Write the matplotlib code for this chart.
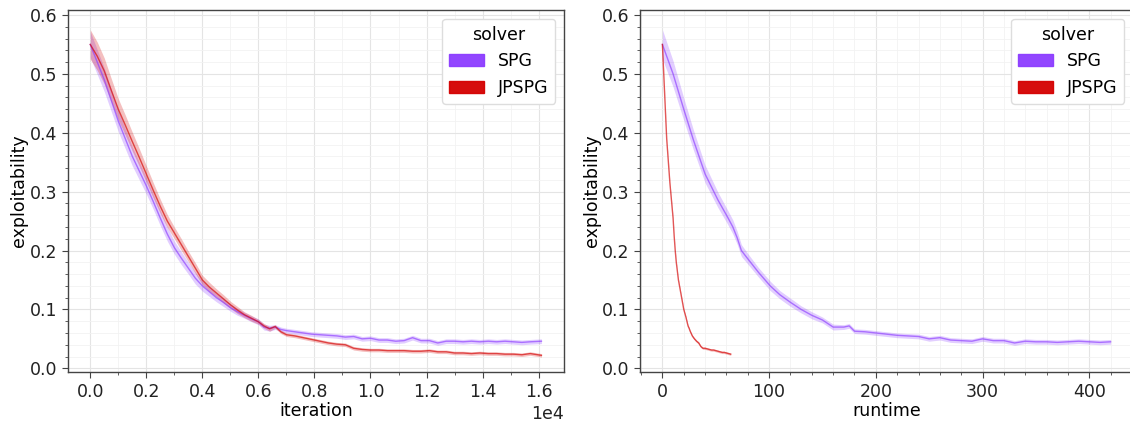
import numpy as np
import matplotlib
matplotlib.use("Agg")
import matplotlib.pyplot as plt
from matplotlib.patches import Patch
from matplotlib.ticker import MultipleLocator

# ---- exploitability vs. iteration -------------------------------------------
spg_iter = [0, 250, 500, 750, 1000, 1250, 1500, 1750, 2000, 2250, 2500, 2750,
            3000, 3250, 3500, 3750, 4000, 4250, 4500, 4750, 5000, 5250, 5500,
            5750, 6000, 6200, 6400, 6600, 6800, 7000, 7300, 7600, 7900, 8200,
            8500, 8800, 9100, 9400, 9700, 10000, 10300, 10600, 10900, 11200,
            11500, 11800, 12100, 12400, 12700, 13000, 13300, 13600, 13900,
            14200, 14500, 14800, 15100, 15400, 15700, 16100]
spg_expl = [0.550, 0.520, 0.490, 0.455, 0.420, 0.390, 0.360, 0.335, 0.310,
            0.283, 0.255, 0.228, 0.205, 0.187, 0.170, 0.153, 0.140, 0.130,
            0.120, 0.112, 0.103, 0.096, 0.090, 0.084, 0.079, 0.070, 0.068,
            0.070, 0.066, 0.064, 0.062, 0.060, 0.058, 0.057, 0.056, 0.055,
            0.053, 0.054, 0.050, 0.051, 0.048, 0.048, 0.046, 0.047, 0.052,
            0.047, 0.047, 0.043, 0.046, 0.046, 0.045, 0.046, 0.045, 0.046,
            0.045, 0.046, 0.045, 0.044, 0.045, 0.046]
spg_band = [0.022, 0.021, 0.020, 0.019, 0.018, 0.017, 0.016, 0.015, 0.014,
            0.013, 0.013, 0.012, 0.011, 0.011, 0.010, 0.010, 0.009, 0.008,
            0.007, 0.007, 0.006, 0.006, 0.005, 0.005, 0.005, 0.005, 0.005,
            0.004, 0.004, 0.004, 0.004, 0.004, 0.004, 0.004, 0.004, 0.004,
            0.004, 0.004, 0.004, 0.004, 0.004, 0.004, 0.004, 0.004, 0.004,
            0.004, 0.004, 0.004, 0.004, 0.004, 0.004, 0.004, 0.004, 0.004,
            0.004, 0.004, 0.004, 0.004, 0.004, 0.004]

jpspg_iter = spg_iter
jpspg_expl = [0.550, 0.530, 0.505, 0.472, 0.440, 0.413, 0.385, 0.358, 0.330,
              0.302, 0.275, 0.250, 0.230, 0.210, 0.190, 0.170, 0.150, 0.138,
              0.128, 0.118, 0.108, 0.099, 0.091, 0.085, 0.079, 0.072, 0.067,
              0.071, 0.062, 0.057, 0.055, 0.052, 0.049, 0.046, 0.043, 0.041,
              0.040, 0.034, 0.032, 0.031, 0.031, 0.030, 0.030, 0.030, 0.029,
              0.029, 0.030, 0.028, 0.028, 0.026, 0.026, 0.025, 0.026, 0.025,
              0.025, 0.024, 0.024, 0.023, 0.025, 0.022]
jpspg_band = [0.025, 0.024, 0.022, 0.020, 0.018, 0.017, 0.016, 0.015, 0.014,
              0.013, 0.012, 0.011, 0.010, 0.010, 0.009, 0.009, 0.008, 0.008,
              0.007, 0.007, 0.006, 0.006, 0.005, 0.005, 0.004, 0.004, 0.004,
              0.003, 0.003, 0.003, 0.003, 0.003, 0.003, 0.003, 0.003, 0.003,
              0.003, 0.003, 0.003, 0.003, 0.003, 0.003, 0.003, 0.003, 0.003,
              0.003, 0.003, 0.003, 0.003, 0.003, 0.003, 0.003, 0.003, 0.003,
              0.003, 0.003, 0.003, 0.003, 0.003, 0.003]

# ---- exploitability vs. runtime ---------------------------------------------
spg_time = [0, 10, 20, 29, 40, 52, 61, 66, 70, 74, 80, 90, 101, 110, 120, 130,
            140, 150, 160, 170, 175, 180, 190, 200, 210, 220, 230, 240, 250,
            260, 270, 280, 290, 300, 310, 320, 330, 340, 350, 360, 370, 380,
            390, 400, 410, 420]
spg_time_expl = [0.550, 0.500, 0.440, 0.388, 0.330, 0.286, 0.257, 0.240,
                 0.222, 0.200, 0.186, 0.163, 0.140, 0.125, 0.112, 0.100,
                 0.090, 0.082, 0.070, 0.070, 0.072, 0.063, 0.062, 0.060,
                 0.058, 0.056, 0.055, 0.054, 0.050, 0.052, 0.048, 0.047,
                 0.046, 0.050, 0.047, 0.047, 0.043, 0.046, 0.045, 0.045,
                 0.044, 0.045, 0.046, 0.045, 0.044, 0.045]
spg_time_band = [0.025, 0.022, 0.019, 0.017, 0.015, 0.013, 0.012, 0.012,
                 0.011, 0.010, 0.009, 0.008, 0.008, 0.007, 0.007, 0.006,
                 0.006, 0.005, 0.005, 0.004, 0.004, 0.004, 0.004, 0.004,
                 0.004, 0.004, 0.004, 0.004, 0.004, 0.004, 0.004, 0.004,
                 0.004, 0.004, 0.004, 0.004, 0.004, 0.004, 0.004, 0.004,
                 0.004, 0.004, 0.004, 0.004, 0.004, 0.004]

jpspg_time = [0, 1, 2, 3, 4, 5, 6, 7, 8, 9, 10, 11, 12, 13, 14, 15, 16, 17,
              18, 20, 22, 24, 25, 26, 28, 30, 32, 34, 36, 38, 40, 42, 44, 46,
              48, 50, 52, 54, 56, 58, 60, 62, 64]
jpspg_time_expl = [0.550, 0.510, 0.470, 0.430, 0.390, 0.365, 0.340, 0.315,
                   0.295, 0.275, 0.255, 0.225, 0.200, 0.180, 0.165, 0.150,
                   0.140, 0.130, 0.120, 0.100, 0.087, 0.072, 0.068, 0.063,
                   0.055, 0.050, 0.046, 0.043, 0.037, 0.034, 0.034, 0.033,
                   0.032, 0.031, 0.031, 0.030, 0.029, 0.028, 0.027, 0.027,
                   0.026, 0.025, 0.024]
jpspg_time_band = 0.002

solvers = ["SPG", "JPSPG"]
colors = {"SPG": "#8c3cff", "JPSPG": "#d40000"}

plt.rcParams["font.family"] = "DejaVu Sans"
plt.rcParams["font.size"] = 12.5

W, H = 1130, 423
fig = plt.figure(figsize=(W / 100, H / 100), dpi=100)
ax1 = fig.add_axes([67.7 / W, (H - 372.3) / H, 496.3 / W, 362.3 / H])
ax2 = fig.add_axes([640 / W, (H - 372.3) / H, 493 / W, 362.3 / H])


def draw(ax, x, y, band, name, lw=1.0):
    x = np.asarray(x, float)
    y = np.asarray(y, float)
    b = np.broadcast_to(np.asarray(band, float), y.shape)
    c = colors[name]
    ax.fill_between(x, y - b, y + b, color=c, alpha=0.25, lw=0)
    ax.plot(x, y, color=c, lw=lw, alpha=0.65)


draw(ax1, spg_iter, spg_expl, spg_band, "SPG")
draw(ax1, jpspg_iter, jpspg_expl, jpspg_band, "JPSPG")
draw(ax2, spg_time, spg_time_expl, spg_time_band, "SPG")
draw(ax2, jpspg_time, jpspg_time_expl, jpspg_time_band, "JPSPG")

ax1.set_xlim(-805, 16905)
ax2.set_xlim(-21, 441)
for ax in (ax1, ax2):
    ax.set_ylim(-0.0068, 0.6085)
    ax.yaxis.set_major_locator(MultipleLocator(0.1))
    ax.yaxis.set_minor_locator(MultipleLocator(0.02))
    ax.set_ylabel("exploitability", labelpad=1)
    ax.grid(which="major", color="#e4e4e4", lw=0.8)
    ax.grid(which="minor", color="#f2f2f2", lw=0.6)
    ax.set_axisbelow(True)
    for s in ax.spines.values():
        s.set_color("#444444")
        s.set_linewidth(1.0)
    ax.tick_params(which="major", length=4, color="#444444", labelcolor="#222222")
    ax.tick_params(which="minor", length=2, color="#444444")
    handles = [Patch(facecolor=colors[n], edgecolor=colors[n], alpha=0.95, label=n)
               for n in solvers]
    leg = ax.legend(handles=handles, title="solver", loc="upper right",
                    fontsize=12.5, title_fontsize=12.5, framealpha=1,
                    edgecolor="#dddddd")

ax1.xaxis.set_major_locator(MultipleLocator(2000))
ax1.xaxis.set_minor_locator(MultipleLocator(1000))
ax1.ticklabel_format(axis="x", style="sci", scilimits=(0, 0))
ax1.set_xlabel("iteration", labelpad=1)

ax2.xaxis.set_major_locator(MultipleLocator(100))
ax2.xaxis.set_minor_locator(MultipleLocator(20))
ax2.set_xlabel("runtime", labelpad=1)

fig.savefig("out.png", dpi=100)
